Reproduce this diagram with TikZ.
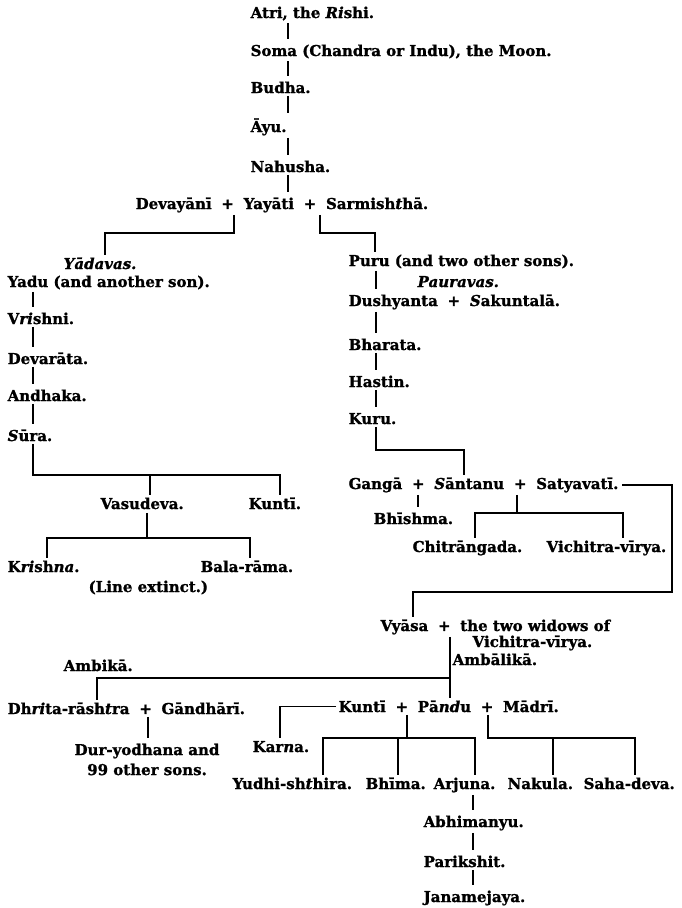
\documentclass[tikz,border=0pt]{standalone}
\usepackage{fontspec}
\setmainfont{DejaVu Serif}[BoldFeatures={FakeBold=1.2}, BoldItalicFeatures={FakeBold=1.2}]
\newcommand{\wed}{\hspace{.3em} + \hspace{.3em}}
\begin{document}
\begin{tikzpicture}[x=1pt, y=-1pt, line width=1.3pt,
    kin/.style={anchor=base west, inner sep=0pt, font=\bfseries\fontsize{15}{18}\selectfont},
    stem/.style={shorten <=2pt, shorten >=5pt}]
\useasboundingbox (0,0) rectangle (682,908);

\node[kin] (atri) at (250,18) {Atri, the \textit{Ri}shi.};
\node[kin] (soma) at (250,56) {Soma (Chandra or Indu), the Moon.};
\node[kin] (budha) at (250,93) {Budha.};
\node[kin] (ayu) at (250,132) {Āyu.};
\node[kin] (nahusha) at (250,172) {Nahusha.};
\node[kin] (yayati) at (135,209) {Devayānī\wed Yayāti\wed Sarmish\textit{t}hā.};

\node[kin] (yadavas) at (63,269) {\textit{Yādavas.}};
\node[kin] (yadu) at (7,287) {Yadu (and another son).};
\node[kin] (vrishni) at (7,324) {V\textit{ri}shni.};
\node[kin] (devarata) at (7,364) {Devarāta.};
\node[kin] (andhaka) at (7,401) {Andhaka.};
\node[kin] (sura) at (7,441) {\textit{S}ūra.};
\node[kin] (vasudeva) at (100,509) {Vasudeva.};
\node[kin] (kunti1) at (248,509) {Kuntī.};
\node[kin] (krishna) at (7,572) {K\textit{ri}sh\textit{na}.};
\node[kin] (balarama) at (200,572) {Bala-rāma.};
\node[kin] (extinct) at (88,592) {(Line extinct.)};

\node[kin] (puru) at (348,266) {Puru (and two other sons).};
\node[kin] (pauravas) at (417,287) {\textit{Pauravas.}};
\node[kin] (dushyanta) at (348,306) {Dushyanta\wed\textit{S}akuntalā.};
\node[kin] (bharata) at (348,350) {Bharata.};
\node[kin] (hastin) at (348,387) {Hastin.};
\node[kin] (kuru) at (348,424) {Kuru.};
\node[kin] (santanu) at (348,489) {Gangā\wed\textit{S}āntanu\wed Satyavatī.};
\node[kin] (bhishma) at (373,524) {Bhīshma.};
\node[kin] (chitrangada) at (412,552) {Chitrāngada.};
\node[kin] (vichitra) at (546,552) {Vichitra-vīrya.};
\node[kin] (vyasa) at (380,631) {Vyāsa\wed the two widows of};
\node[kin] (vyasa2) at (472,647) {Vichitra-vīrya.};
\node[kin] (ambalika) at (452,665) {Ambālikā.};

\node[kin] (ambika) at (63,671) {Ambikā.};
\node[kin] (dhrita) at (7,714) {Dh\textit{ri}ta-rāsh\textit{t}ra\wed Gāndhārī.};
\node[kin, anchor=north, align=center, font=\bfseries\fontsize{15}{20}\selectfont] (duryodhana) at (147,743) {Dur-yodhana and\\99 other sons.};
\node[kin] (kuntipandu) at (338,712) {Kuntī\wed Pā\textit{nd}u\wed Mādrī.};
\node[kin] (karna) at (252,752) {Kar\textit{n}a.};
\node[kin] (yudhi) at (232,789) {Yudhi-sh\textit{t}hira.};
\node[kin] (bhima) at (365,789) {Bhīma.};
\node[kin] (arjuna) at (433,789) {Arjuna.};
\node[kin] (nakula) at (507,789) {Nakula.};
\node[kin] (sahadeva) at (583,789) {Saha-deva.};
\node[kin] (abhimanyu) at (423,827) {Abhimanyu.};
\node[kin] (parikshit) at (423,867) {Parikshit.};
\node[kin] (janamejaya) at (423,902) {Janamejaya.};

\coordinate (atricol) at (288,0);
\foreach \a/\b in {atri/soma, soma/budha, budha/ayu, ayu/nahusha, nahusha/yayati}
  \draw[stem] (atricol |- \a.south) -- (atricol |- \b.north);

\coordinate (plusa) at (234,0);
\coordinate (plusb) at (320,0);
\coordinate (yadavbar) at (105,233);
\coordinate (purubar) at (375,233);
\draw[shorten <=2pt, shorten >=2pt] (plusa |- yayati.south) |- (yadavbar) -- (yadavbar |- yadavas.north);
\draw[shorten <=2pt, shorten >=2pt] (plusb |- yayati.south) |- (purubar) -- (purubar |- puru.north);

\coordinate (yaducol) at (33,0);
\foreach \a/\b in {yadu/vrishni, vrishni/devarata, devarata/andhaka, andhaka/sura}
  \draw[stem] (yaducol |- \a.south) -- (yaducol |- \b.north);
\coordinate (kuntibar1) at (280,475);
\coordinate (vasubar) at (150,475);
\draw[shorten <=2pt, shorten >=2pt] (yaducol |- sura.south) |- (kuntibar1) -- (kuntibar1 |- kunti1.north);
\draw[shorten >=2pt] (vasubar) -- (vasubar |- vasudeva.north);
\coordinate (vasucol) at (147,0);
\coordinate (krishbar) at (47,538);
\coordinate (balabar) at (250,538);
\draw[shorten <=3pt] (vasucol |- vasudeva.south) -- (vasucol |- krishbar);
\draw[shorten <=2pt, shorten >=2pt] (krishbar |- krishna.north) -- (krishbar) -- (balabar) -- (balabar |- balarama.north);

\coordinate (purucol) at (376,0);
\foreach \a/\b in {puru/dushyanta, dushyanta/bharata, bharata/hastin, hastin/kuru}
  \draw[stem] (purucol |- \a.south) -- (purucol |- \b.north);
\coordinate (kurubar) at (464,450);
\draw[shorten <=2pt, shorten >=2pt] (purucol |- kuru.south) |- (kurubar) -- (kurubar |- santanu.north);

\coordinate (vyasabar) at (672,592);
\coordinate (vyasacol) at (413,0);
\draw[shorten <=3pt, shorten >=2pt] (santanu.east) -| (vyasabar) -| (vyasacol |- vyasa.north);
\coordinate (gangacol) at (418,0);
\draw[stem] (gangacol |- santanu.south) -- (gangacol |- bhishma.north);
\coordinate (satbar) at (517,513);
\coordinate (chitcol) at (475,0);
\coordinate (vichcol) at (623,0);
\draw[shorten <=2pt] (satbar |- santanu.south) -- (satbar);
\draw[shorten <=2pt, shorten >=2pt] (chitcol |- chitrangada.north) |- (satbar) -| (vichcol |- vichitra.north);

\coordinate (vyacol) at (450,0);
\coordinate (ambikabar) at (97,678);
\draw[shorten <=2pt, shorten >=2pt] (vyacol |- vyasa.south) -- (vyacol |- kuntipandu.north);
\draw[shorten >=2pt] (vyacol |- ambikabar) -| (ambikabar |- dhrita.north);
\coordinate (dhritacol) at (148,0);
\draw[stem] (dhritacol |- dhrita.south) -- (dhritacol |- duryodhana.north);

\coordinate (karnacol) at (280,0);
\draw[shorten <=2pt, shorten >=2pt] (kuntipandu.west) -| (karnacol |- karna.north);
\coordinate (kuntibar2) at (407,738);
\coordinate (madribar) at (488,738);
\coordinate (yudhicol) at (323,0);
\coordinate (bhimacol) at (398,0);
\coordinate (arjcol) at (475,0);
\coordinate (nakulacol) at (553,0);
\coordinate (sahacol) at (635,0);
\draw[shorten <=2pt] (kuntibar2 |- kuntipandu.south) -- (kuntibar2);
\draw[shorten <=2pt, shorten >=2pt] (yudhicol |- yudhi.north) |- (kuntibar2) -| (arjcol |- arjuna.north);
\draw[shorten >=2pt] (bhimacol |- kuntibar2) -- (bhimacol |- bhima.north);
\draw[shorten <=2pt, shorten >=2pt] (madribar |- kuntipandu.south) -- (madribar) -| (sahacol |- sahadeva.north);
\draw[shorten >=2pt] (nakulacol |- madribar) -- (nakulacol |- nakula.north);

\coordinate (abhicol) at (473,0);
\foreach \a/\b in {arjuna/abhimanyu, abhimanyu/parikshit, parikshit/janamejaya}
  \draw[stem] (abhicol |- \a.south) -- (abhicol |- \b.north);
\end{tikzpicture}
\end{document}
